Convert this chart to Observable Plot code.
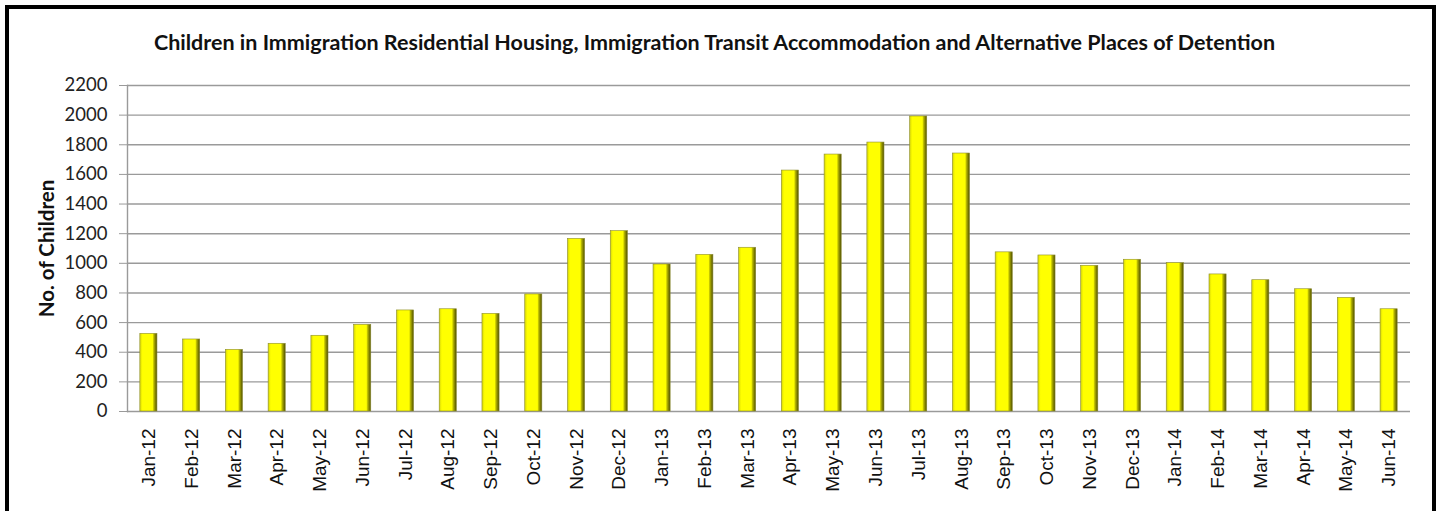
<!DOCTYPE html>
<html><head><meta charset="utf-8">
<script src="https://cdn.jsdelivr.net/npm/d3@7"></script>
<script src="https://cdn.jsdelivr.net/npm/@observablehq/plot@0.6"></script>
<style>
body{margin:0;background:#fff;}
#frame{position:absolute;left:5px;top:5px;width:1423px;height:530px;border:4px solid #000;background:#fff;overflow:hidden;}
#title{height:51px;box-sizing:border-box;padding-top:22px;padding-right:12px;line-height:22px;text-align:center;font-family:Lato, sans-serif;font-weight:bold;font-size:21.5px;color:#111;white-space:nowrap;}
#chart svg{display:block;}
</style></head><body>
<div id="frame"><div id="title">Children in Immigration Residential Housing, Immigration Transit Accommodation and Alternative Places of Detention</div><div id="chart"></div></div>
<script>
const months = ["Jan-12","Feb-12","Mar-12","Apr-12","May-12","Jun-12","Jul-12","Aug-12","Sep-12","Oct-12","Nov-12","Dec-12",
  "Jan-13","Feb-13","Mar-13","Apr-13","May-13","Jun-13","Jul-13","Aug-13","Sep-13","Oct-13","Nov-13","Dec-13",
  "Jan-14","Feb-14","Mar-14","Apr-14","May-14","Jun-14"];
const children = [524,486,416,457,511,585,682,690,659,790,1165,1217,
  992,1057,1105,1626,1734,1815,1991,1741,1074,1053,983,1024,
  1001,925,886,825,767,690];
const yTicks = [0,200,400,600,800,1000,1200,1400,1600,1800,2000,2200];
const yLabel = "No. of Children";

const data = months.map((m, i) => ({month: m, value: children[i]}));

const svg = Plot.plot({
  width: 1423,
  height: 451,
  marginLeft: 118,
  marginRight: 22,
  marginTop: 25,
  marginBottom: 100,
  style: {background: "transparent", overflow: "visible"},
  x: {domain: months, paddingInner: 0.6, paddingOuter: 0.3, round: false, label: null},
  y: {domain: [0, 2200], ticks: yTicks, label: null},
  marks: [
    Plot.ruleY(yTicks, {stroke: "#9a9a9a", strokeWidth: 1.4}),
    Plot.axisY({ticks: yTicks, tickFormat: d => String(d), tickSize: 8, tickPadding: 12, stroke: "#9a9a9a", fontSize: 18.5, fontFamily: "Lato, sans-serif", fill: "#222", label: null}),
    Plot.axisX({tickSize: 0, tickPadding: 17, tickRotate: -90, fontSize: 19, fontFamily: "'Liberation Sans', Arial, sans-serif", fill: "#111", label: null}),
    Plot.barY(data, {x: "month", y: "value", fill: "url(#bevel)", stroke: "#8c8c30", strokeWidth: 0.6}),
    Plot.frame({anchor: "left", stroke: "#9a9a9a", strokeWidth: 1.4}),
    Plot.text([yLabel], {frameAnchor: "left", textAnchor: "middle", rotate: -90, dx: -80, fontSize: 20.5, fontWeight: "bold", fontFamily: "Lato, sans-serif", fill: "#111"})
  ]
});

const defs = d3.select(svg).insert("defs", ":first-child");
const g = defs.append("linearGradient").attr("id", "bevel").attr("x1", 0).attr("x2", 1).attr("y1", 0).attr("y2", 0);
[["0%","#cfcf10"],["10%","#f2f200"],["16%","#ffff00"],["74%","#ffff00"],["82%","#b5b500"],["100%","#4d4d00"]]
  .forEach(([o, c]) => g.append("stop").attr("offset", o).attr("stop-color", c));

document.getElementById("chart").appendChild(svg);
</script>
</body></html>
